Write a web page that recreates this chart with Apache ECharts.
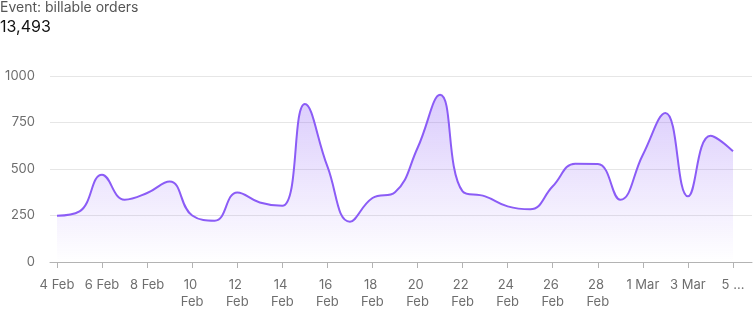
<!DOCTYPE html>
<html>
<head>
<meta charset="utf-8">
<script src="https://cdn.jsdelivr.net/npm/echarts@6/dist/echarts.min.js"></script>
<style>
html,body{margin:0;padding:0;background:#fff;}
#chart{width:755px;height:311px;}
</style>
</head>
<body>
<div id="chart"></div>
<script>
var titleText = 'Event: billable orders';
var totalText = '13,493';
var categories = ['4 Feb','5 Feb','6 Feb','7 Feb','8 Feb','9 Feb','10 Feb','11 Feb','12 Feb','13 Feb','14 Feb','15 Feb','16 Feb','17 Feb','18 Feb','19 Feb','20 Feb','21 Feb','22 Feb','23 Feb','24 Feb','25 Feb','26 Feb','27 Feb','28 Feb','29 Feb','1 Mar','2 Mar','3 Mar','4 Mar','5 Mar'];
var values = [249,272,469,335,371,433,250,222,374,320,302,849,514,217,344,375,613,899,380,353,299,283,407,528,527,335,577,801,353,679,595];
var yTicks = [0,250,500,750,1000];
var lastLabel = '5 ...';

var font = 'Inter, "Noto Sans", sans-serif';
var chart = echarts.init(document.getElementById('chart'), null, {renderer:'canvas'});
var gridTop = 76, gridBottom = 49;
chart.setOption({
  animation:false,
  graphic:[
    {type:'text', left:0, top:1, style:{text:titleText, font:'14px '+font, fill:'#555'}},
    {type:'text', left:0, top:19, style:{text:totalText, font:'16px '+font, fill:'#111'}}
  ],
  grid:[
    {left:50, right:3, top:gridTop, bottom:gridBottom},
    {left:57, right:10.4, top:gridTop, bottom:gridBottom}
  ],
  xAxis:[
    {gridIndex:0, type:'category', data:categories, boundaryGap:false,
     axisLine:{lineStyle:{color:'#b3b3b3'}}, axisTick:{show:false}, axisLabel:{show:false}, splitLine:{show:false}},
    {gridIndex:1, type:'category', data:categories, boundaryGap:false,
     axisLine:{show:false},
     axisTick:{show:true, interval:1, length:6, lineStyle:{color:'#b3b3b3'}},
     axisLabel:{interval:1, margin:15, color:'#6e6e6e', fontFamily:font, fontSize:13, lineHeight:17,
       width:38, overflow:'break',
       formatter:function(v, i){ return i === categories.length-1 ? lastLabel : v; }},
     splitLine:{show:false}}
  ],
  yAxis:[
    {gridIndex:0, type:'value', min:yTicks[0], max:yTicks[yTicks.length-1], interval:yTicks[1]-yTicks[0],
     axisLine:{show:false}, axisTick:{show:false},
     axisLabel:{margin:15, color:'#6e6e6e', fontFamily:font, fontSize:13, formatter:function(v){return String(v);}},
     splitLine:{lineStyle:{color:'#e6e6e6'}}},
    {gridIndex:1, type:'value', min:yTicks[0], max:yTicks[yTicks.length-1], interval:yTicks[1]-yTicks[0],
     show:false}
  ],
  series:[{
    type:'line', xAxisIndex:1, yAxisIndex:1, data:values, smooth:0.45, symbol:'none',
    lineStyle:{color:'#8b5cf6', width:2},
    areaStyle:{color:new echarts.graphic.LinearGradient(0,0,0,1,[
      {offset:0, color:'rgba(139,92,246,0.45)'},
      {offset:1, color:'rgba(139,92,246,0.0)'}
    ])}
  }]
});
</script>
</body>
</html>
